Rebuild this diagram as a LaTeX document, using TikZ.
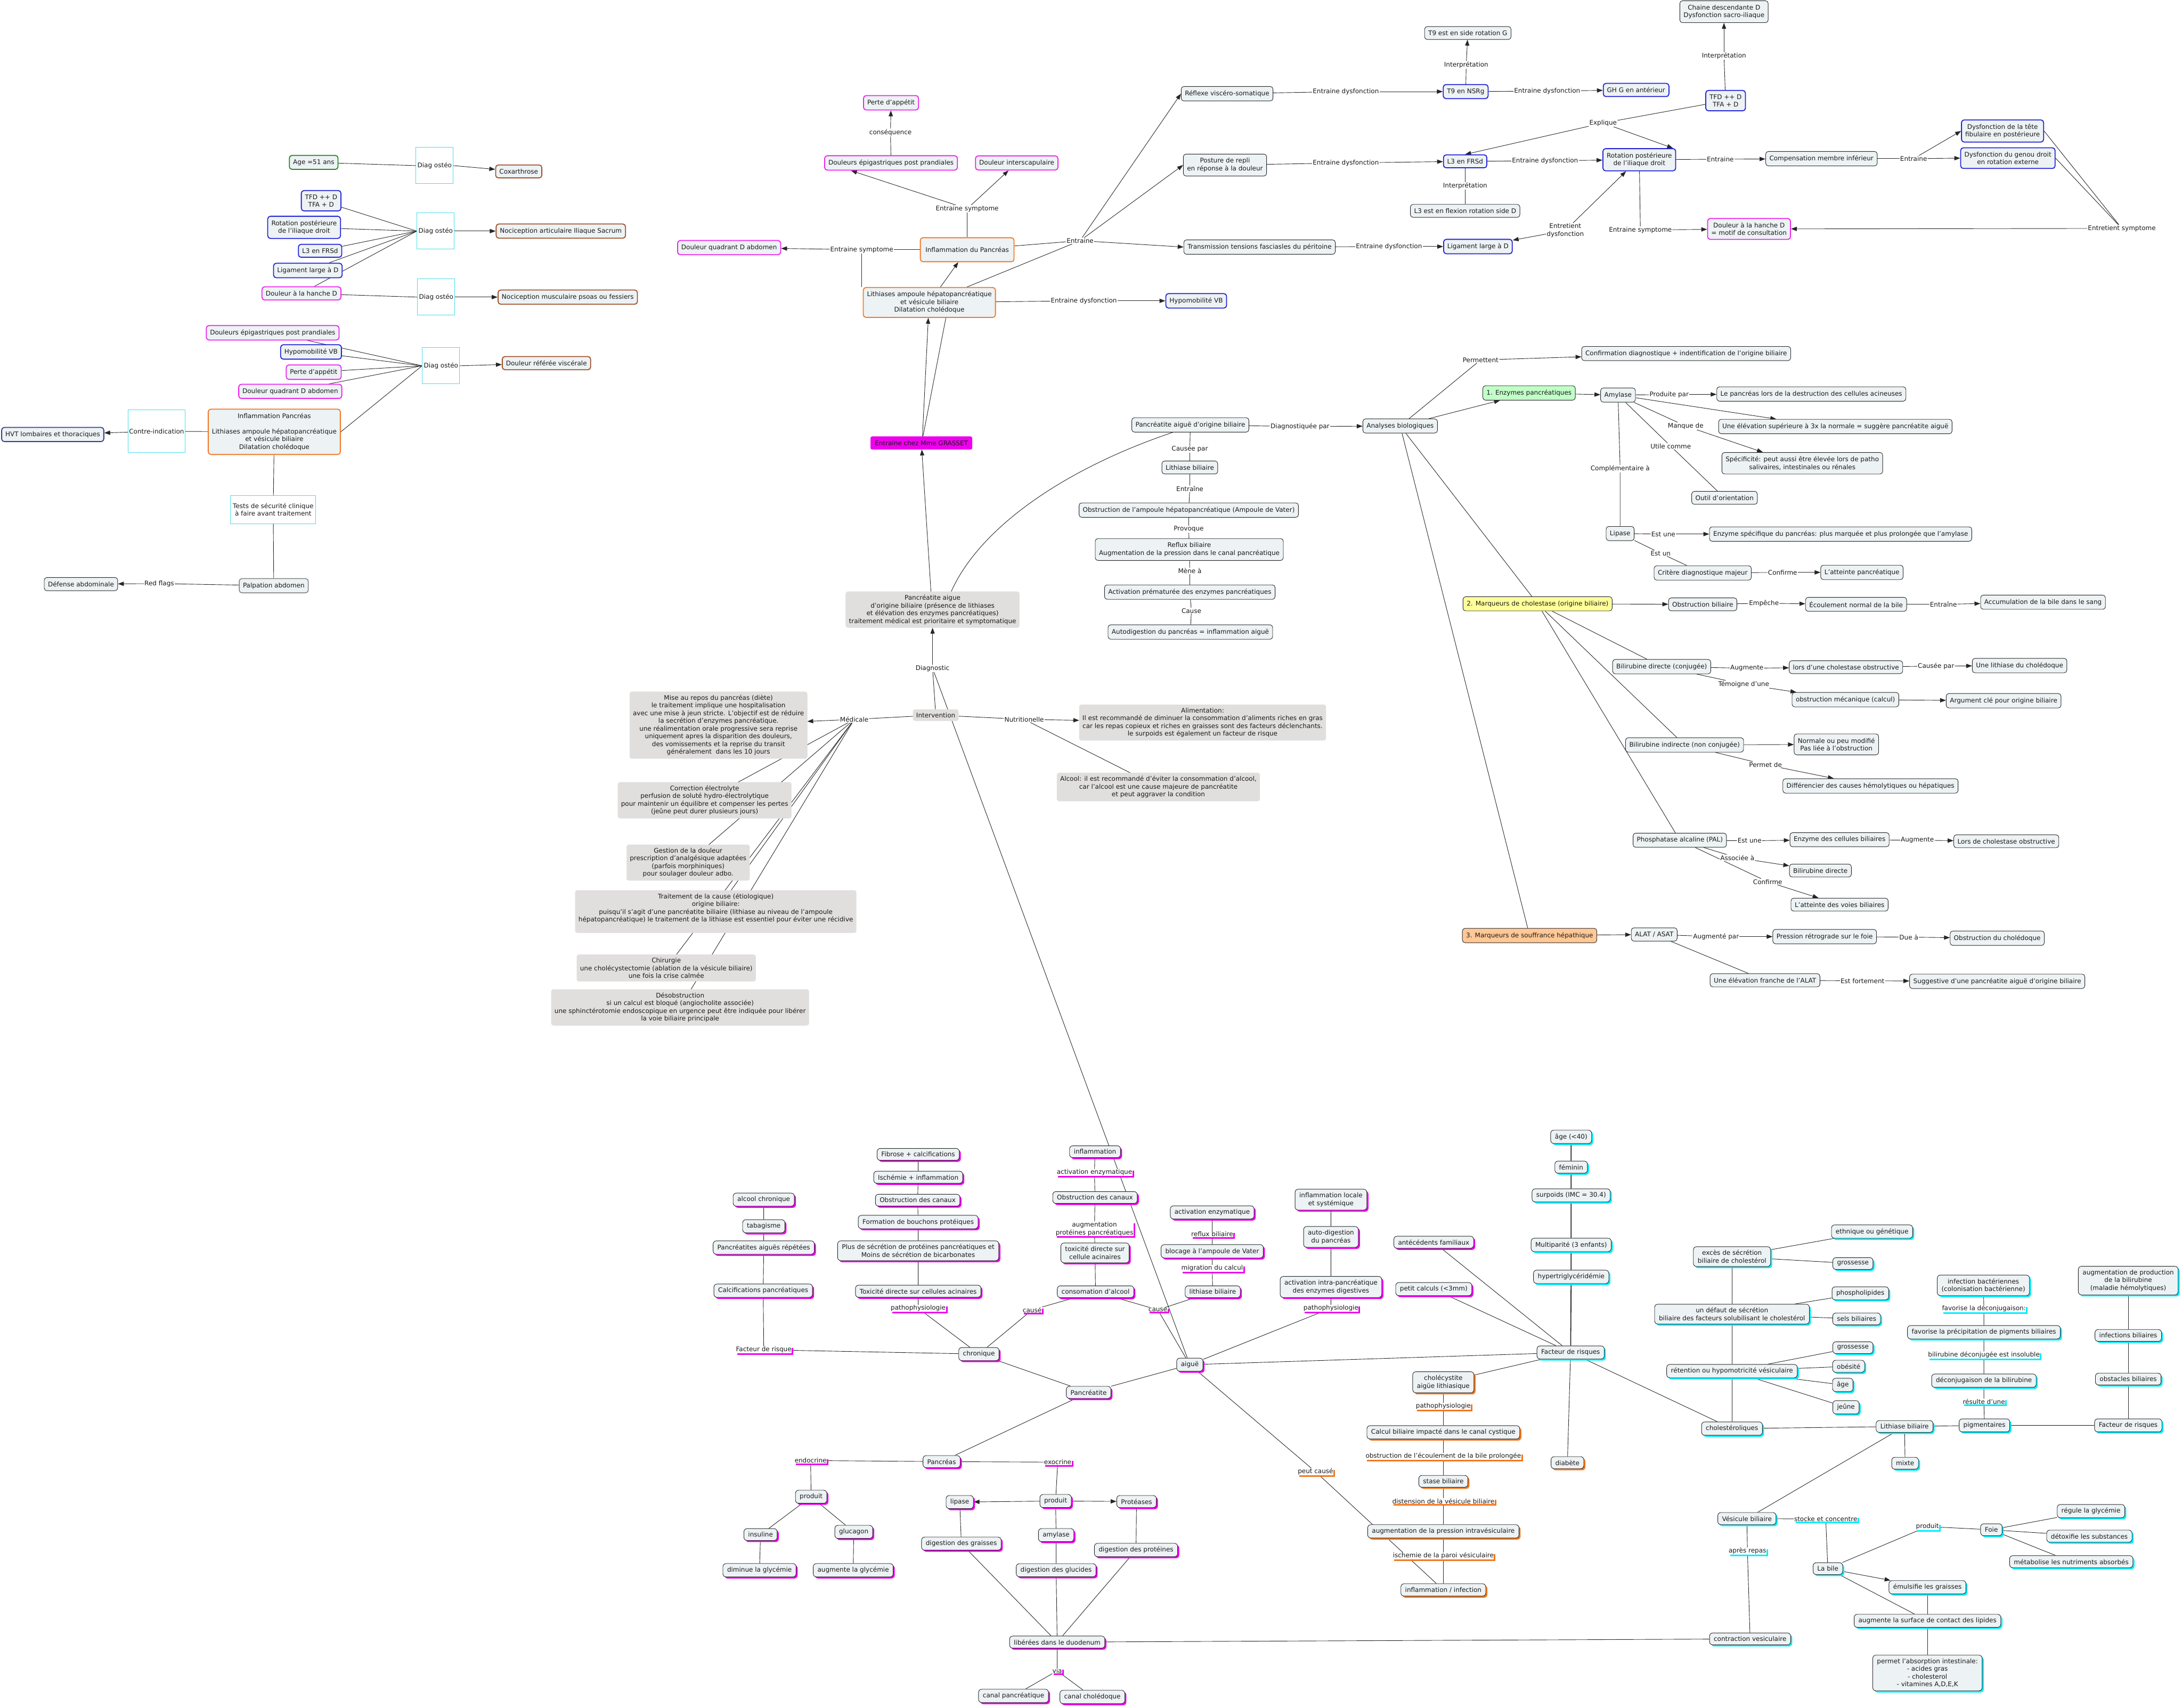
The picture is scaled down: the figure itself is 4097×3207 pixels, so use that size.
\documentclass[tikz,border=0pt]{standalone}
\usepackage{fontspec}
\setmainfont{DejaVu Sans}
\usetikzlibrary{arrows.meta,shadows}

\definecolor{fond}{HTML}{EDF2F4}
\definecolor{bleu}{HTML}{2424D8}
\definecolor{rose}{HTML}{EC24EC}
\definecolor{corange}{HTML}{F07A28}
\definecolor{brun}{HTML}{A0522D}
\definecolor{vert}{HTML}{1E8C1E}
\definecolor{marine}{HTML}{3C3C96}
\definecolor{cyanbord}{HTML}{48DCE6}
\definecolor{gris}{HTML}{E1DEDE}
\definecolor{vertclair}{HTML}{C2FFC8}
\definecolor{jaune}{HTML}{FFFF99}
\definecolor{peche}{HTML}{FFC896}
\definecolor{ombrecyan}{HTML}{00EEFF}
\definecolor{ombrerose}{HTML}{EE00EE}
\definecolor{ombreorange}{HTML}{F07820}

\pgfdeclarelayer{background}
\pgfsetlayers{background,main}

\tikzset{
  texte/.style={font=\fontsize{12}{14.5}\selectfont, text=black!90},
  concept/.style={texte, draw=black!85, fill=fond, rounded corners=5pt, line width=0.9pt, align=center, inner xsep=7pt, inner ysep=7.5pt},
  bleubox/.style={concept, draw=bleu, line width=1.8pt},
  rosebox/.style={concept, draw=rose, line width=1.8pt},
  orbox/.style={concept, draw=corange, line width=1.8pt},
  brunbox/.style={concept, draw=brun, line width=1.8pt},
  vertbox/.style={concept, draw=vert, line width=1.8pt},
  marinebox/.style={concept, draw=marine, line width=1.8pt},
  diag/.style={texte, draw=cyanbord, fill=white, line width=0.9pt, minimum width=70pt, minimum height=68pt, inner sep=1pt},
  cyanbox/.style={texte, draw=cyanbord, fill=white, line width=0.9pt, align=center, inner xsep=2pt},
  grisbox/.style={texte, fill=gris, draw=gris, rounded corners=4pt, align=center, inner xsep=6pt, inner ysep=6pt},
  grasset/.style={texte, fill=ombrerose, draw=rose, rounded corners=3pt, inner xsep=8pt, inner ysep=7.5pt},
  lien/.style={texte, fill=white, inner sep=1pt, align=center},
  cnode/.style={concept, rounded corners=6pt, inner xsep=8pt, inner ysep=6.5pt, drop shadow={shadow xshift=3pt, shadow yshift=-3pt, fill=#1, fill opacity=1}},
  clien/.style={lien, inner sep=0.5pt, drop shadow={shadow xshift=3pt, shadow yshift=-3pt, fill=#1, fill opacity=1}},
  fleche/.style={-{Triangle[length=11pt,width=8pt]}}
}

\begin{document}
\begin{tikzpicture}[x=1pt,y=-1pt]
\useasboundingbox (0,0) rectangle (4097,3207);

\node[vertbox] (age) at (589,305) {Age =51 ans};
\node[diag] (diagA) at (816,311) {Diag ostéo};
\node[brunbox] (coxa) at (974,322) {Coxarthrose};
\node[bleubox] (tfdL) at (603,377) {TFD ++ D\\TFA + D};
\node[bleubox] (rotL) at (571,427) {Rotation postérieure\\de l'iliaque droit};
\node[bleubox] (l3L) at (601,471) {L3 en FRSd};
\node[bleubox] (ligL) at (578,508) {Ligament large à D};
\node[rosebox] (hancheL) at (566,551) {Douleur à la hanche D};
\node[diag] (diagB) at (818,434) {Diag ostéo};
\node[brunbox] (nocArt) at (1053,434) {Nociception articulaire Iliaque Sacrum};
\node[diag] (diagC) at (819,558) {Diag ostéo};
\node[brunbox] (nocMus) at (1066,558) {Nociception musculaire psoas ou fessiers};
\node[rosebox] (epigL) at (512,625) {Douleurs épigastriques post prandiales};
\node[bleubox] (hypoL) at (584,661) {Hypomobilité VB};
\node[rosebox] (perteL) at (589,699) {Perte d'appétit};
\node[rosebox] (quadL) at (545,735) {Douleur quadrant D abdomen};
\node[diag] (diagD) at (828,687) {Diag ostéo};
\node[brunbox] (refer) at (1026,682) {Douleur référée viscérale};
\node[orbox] (inflamL) at (515,811) {Inflammation Pancréas\\[14.5pt]Lithiases ampoule hépatopancréatique\\et vésicule biliaire\\Dilatation cholédoque};
\node[cyanbox, minimum width=106pt, minimum height=80pt] (contre) at (294,810) {Contre-indication};
\node[marinebox] (hvt) at (99,816) {HVT lombaires et thoraciques};
\node[cyanbox, minimum width=160pt, minimum height=53pt] (tests) at (513,957) {Tests de sécurité clinique\\à faire avant traitement};
\node[concept, draw=black!50, line width=1.5pt] (palp) at (514,1100) {Palpation abdomen};
\node[concept] (defense) at (152,1097) {Défense abdominale};
\node[lien] (redflags) at (299,1096) {Red flags};

\node[rosebox] (perteC) at (1673,193) {Perte d'appétit};
\node[lien] (consq) at (1672,249) {conséquence};
\node[rosebox] (epigC) at (1673,306) {Douleurs épigastriques post prandiales};
\node[rosebox] (intersc) at (1909,306) {Douleur interscapulaire};
\node[lien] (symA) at (1816,392) {Entraine symptome};
\node[orbox, minimum width=176pt, minimum height=45pt] (inflamC) at (1816,469) {Inflammation du Pancréas};
\node[rosebox] (quadC) at (1369,465) {Douleur quadrant D abdomen};
\node[lien] (symB) at (1618,469) {Entraine symptome};
\node[orbox] (lithC) at (1745,568) {Lithiases ampoule hépatopancréatique\\et vésicule biliaire\\Dilatation cholédoque};
\node[lien] (entrA) at (2028,452) {Entraine};
\node[concept] (reflexe) at (2304,176) {Réflexe viscéro-somatique};
\node[concept] (posture) at (2300,310) {Posture de repli\\en réponse à la douleur};
\node[concept] (transm) at (2365,464) {Transmission tensions fasciasles du péritoine};
\node[lien] (dysfA) at (2035,565) {Entraine dysfonction};
\node[bleubox] (hypoC) at (2246,565) {Hypomobilité VB};
\node[grasset] (grasset) at (1730,832) {Entraine chez Mme GRASSET};
\node[concept] (paob) at (2235,798) {Pancréatite aiguë d'origine biliaire};
\node[lien] (diagpar) at (2441,801) {Diagnostiquée par};

\node[lien] (dysfB) at (2527,172) {Entraine dysfonction};
\node[lien] (dysfC) at (2527,306) {Entraine dysfonction};
\node[concept] (t9side) at (2756,62) {T9 est en side rotation G};
\node[lien] (interA) at (2753,122) {Interprétation};
\node[bleubox] (t9) at (2752,172) {T9 en NSRg};
\node[lien] (dysfD) at (2905,171) {Entraine dysfonction};
\node[bleubox] (ghg) at (3072,169) {GH G en antérieur};
\node[concept] (chaine) at (3237,22) {Chaine descendante D\\Dysfonction sacro-iliaque};
\node[lien] (interB) at (3237,105) {Interprétation};
\node[bleubox] (tfdR) at (3240,189) {TFD ++ D\\TFA + D};
\node[lien] (explique) at (3010,231) {Explique};
\node[bleubox] (l3R) at (2751,303) {L3 en FRSd};
\node[lien] (dysfE) at (2901,302) {Entraine dysfonction};
\node[bleubox] (rotR) at (3078,300) {Rotation postérieure\\de l'iliaque droit};
\node[lien] (entrB) at (3230,299) {Entraine};
\node[concept] (compens) at (3420,298) {Compensation membre inférieur};
\node[lien] (entrC) at (3593,298) {Entraine};
\node[bleubox] (fibul) at (3760,246) {Dysfonction de la tête\\fibulaire en postérieure};
\node[bleubox] (genou) at (3770,297) {Dysfonction du genou droit\\en rotation externe};
\node[lien] (interC) at (2751,349) {Interprétation};
\node[concept] (l3flex) at (2751,396) {L3 est en flexion rotation side D};
\node[lien] (entret) at (2939,433) {Entretient\\dysfonction};
\node[bleubox] (ligR) at (2775,463) {Ligament large à D};
\node[lien] (dysfF) at (2608,463) {Entraine dysfonction};
\node[lien] (symC) at (3080,432) {Entraine symptome};
\node[rosebox] (motif) at (3284,430) {Douleur à la hanche D\\= motif de consultation};
\node[lien] (entretS) at (3984,429) {Entretient symptome};

\node[concept] (confirm) at (3166,664) {Confirmation diagnostique + indentification de l'origine biliaire};
\node[lien] (permet) at (2780,676) {Permettent};
\node[concept, fill=vertclair] (enzymes) at (2871,738) {1. Enzymes pancréatiques};
\node[concept] (amylaseT) at (3038,742) {Amylase};
\node[lien] (produite) at (3134,741) {Produite par};
\node[concept] (acineuses) at (3401,740) {Le pancréas lors de la destruction des cellules acineuses};
\node[concept] (elev3x) at (3446,801) {Une élévation supérieure à 3x la normale = suggère pancréatite aiguë};
\node[lien] (manque) at (3165,800) {Manque de};
\node[concept] (specif) at (3384,870) {Spécificité: peut aussi être élevée lors de patho\\salivaires, intestinales ou rénales};
\node[lien] (utile) at (3137,838) {Utile comme};
\node[concept] (outil) at (3238,935) {Outil d'orientation};
\node[lien] (complem) at (3042,880) {Complémentaire à};
\node[concept] (analyses) at (2629,800) {Analyses biologiques};
\node[concept] (lipaseT) at (3042,1002) {Lipase};
\node[lien] (estuneA) at (3123,1003) {Est une};
\node[concept] (enzspec) at (3456,1003) {Enzyme spécifique du pancréas: plus marquée et plus prolongée que l'amylase};
\node[lien] (estun) at (3118,1039) {Est un};
\node[concept] (critere) at (3197,1076) {Critère diagnostique majeur};
\node[lien] (confA) at (3347,1075) {Confirme};
\node[concept] (atteinteP) at (3496,1075) {L'atteinte pancréatique};
\node[concept, fill=jaune] (cholest) at (2887,1134) {2. Marqueurs de cholestase (origine biliaire)};
\node[concept] (obstbil) at (3197,1135) {Obstruction biliaire};
\node[lien] (empeche) at (3312,1133) {Empêche};
\node[concept] (ecoul) at (3485,1135) {Écoulement normal de la bile};
\node[lien] (entrD) at (3649,1135) {Entraîne};
\node[concept] (accum) at (3836,1131) {Accumulation de la bile dans le sang};

\node[concept] (bilidir) at (3120,1252) {Bilirubine directe (conjugée)};
\node[lien] (augmA) at (3280,1255) {Augmente};
\node[concept] (cholobs) at (3466,1253) {lors d'une cholestase obstructive};
\node[lien] (causeepar) at (3635,1251) {Causée par};
\node[concept] (lithchol) at (3792,1250) {Une lithiase du cholédoque};
\node[lien] (temoigne) at (3274,1285) {Témoigne d'une};
\node[concept] (obstmec) at (3465,1314) {obstruction mécanique (calcul)};
\node[concept] (argument) at (3762,1316) {Argument clé pour origine biliaire};
\node[concept] (biliind) at (3163,1399) {Bilirubine indirecte (non conjugée)};
\node[concept] (normale) at (3448,1398) {Normale ou peu modifié\\Pas liée à l'obstruction};
\node[lien] (permetde) at (3315,1436) {Permet de};
\node[concept] (differ) at (3512,1476) {Différencier des causes hémolytiques ou hépatiques};
\node[concept] (pal) at (3154,1578) {Phosphatase alcaline (PAL)};
\node[lien] (estuneB) at (3285,1579) {Est une};
\node[concept] (enzcell) at (3454,1577) {Enzyme des cellules biliaires};
\node[lien] (augmB) at (3600,1578) {Augmente};
\node[concept] (lorschol) at (3767,1580) {Lors de cholestase obstructive};
\node[lien] (associee) at (3262,1611) {Associée à};
\node[concept] (bilidirB) at (3418,1635) {Bilirubine directe};
\node[lien] (confB) at (3319,1656) {Confirme};
\node[concept] (voies) at (3454,1699) {L'atteinte des voies biliaires};
\node[concept, fill=peche] (hepat) at (2872,1757) {3. Marqueurs de souffrance hépathique};
\node[concept] (alat) at (3106,1755) {ALAT / ASAT};
\node[lien] (augmpar) at (3222,1759) {Augmenté par};
\node[concept] (pression) at (3426,1759) {Pression rétrograde sur le foie};
\node[lien] (duea) at (3584,1760) {Due à};
\node[concept] (obstchol) at (3750,1762) {Obstruction du cholédoque};
\node[concept] (elevalat) at (3314,1841) {Une élévation franche de l'ALAT};
\node[lien] (fortement) at (3497,1842) {Est fortement};
\node[concept] (suggest) at (3750,1843) {Suggestive d'une pancréatite aiguë d'origine biliaire};

\node[lien] (causeeB) at (2234,843) {Causée par};
\node[concept] (lithbil) at (2234,878) {Lithiase biliaire};
\node[lien] (entrE) at (2234,918) {Entraîne};
\node[concept] (obstamp) at (2232,958) {Obstruction de l'ampoule hépatopancréatique (Ampoule de Vater)};
\node[lien] (provoque) at (2232,994) {Provoque};
\node[concept] (reflux) at (2233,1032) {Reflux biliaire\\Augmentation de la pression dans le canal pancréatique};
\node[lien] (mene) at (2234,1072) {Mène à};
\node[concept] (activ) at (2234,1112) {Activation prématurée des enzymes pancréatiques};
\node[lien] (causeC) at (2237,1147) {Cause};
\node[concept] (autodig) at (2235,1187) {Autodigestion du pancréas = inflammation aiguë};

\node[grisbox] (grisPA) at (1751,1145) {Pancréatite aigue\\d'origine biliaire (présence de lithiases\\et élévation des enzymes pancréatiques)\\traitement médical est prioritaire et symptomatique};
\node[lien] (diagnostic) at (1751,1255) {Diagnostic};
\node[grisbox] (interv) at (1757,1343) {Intervention};
\node[lien] (medicale) at (1604,1351) {Médicale};
\node[lien] (nutri) at (1923,1351) {Nutritionelle};
\node[grisbox] (repos) at (1349,1362) {Mise au repos du pancréas (diète)\\le traitement implique une hospitalisation\\avec une mise à jeun stricte. L'objectif est de réduire\\la secrétion d'enzymes pancréatique.\\une réalimentation orale progressive sera reprise\\uniquement apres la disparition des douleurs,\\des vomissements et la reprise du transit\\généralement\ \ dans les 10 jours};
\node[grisbox] (aliment) at (2258,1357) {Alimentation:\\Il est recommandé de diminuer la consommation d'aliments riches en gras\\car les repas copieux et riches en graisses sont des facteurs déclenchants.\\le surpoids est également un facteur de risque};
\node[grisbox] (alcool) at (2175,1478) {Alcool: il est recommandé d'éviter la consommation d'alcool,\\car l'alcool est une cause majeure de pancréatite\\et peut aggraver la condition};
\node[grisbox] (correction) at (1323,1503) {Correction électrolyte\\perfusion de soluté hydro-électrolytique\\pour maintenir un équilibre et compenser les pertes\\(jeûne peut durer plusieurs jours)};
\node[grisbox] (gestion) at (1292,1620) {Gestion de la douleur\\prescription d'analgésique adaptées\\(parfois morphiniques)\\pour soulager douleur adbo.};
\node[grisbox] (traitement) at (1344,1712) {Traitement de la cause (étiologique)\\origine biliaire:\\puisqu'il s'agit d'une pancréatite biliaire (lithiase au niveau de l'ampoule\\hépatopancréatique) le traitement de la lithiase est essentiel pour éviter une récidive\\\mbox{}};
\node[grisbox] (chirurgie) at (1251,1818) {Chirurgie\\une cholécystectomie (ablation de la vésicule biliaire)\\une fois la crise calmée};
\node[grisbox] (desobst) at (1277,1892) {Désobstruction\\si un calcul est bloqué (angiocholite associée)\\une sphinctérotomie endoscopique en urgence peut être indiquée pour libérer\\la voie biliaire principale};

\node[cnode=ombrerose] (fibrose) at (1724,2168) {Fibrose + calcifications};
\node[cnode=ombrerose] (ischemie) at (1724,2211) {Ischémie + inflammation};
\node[cnode=ombrerose] (obstcanA) at (1723,2254) {Obstruction des canaux};
\node[cnode=ombrerose] (bouchons) at (1724,2295) {Formation de bouchons protéiques};
\node[cnode=ombrerose] (secretion) at (1724,2349) {Plus de sécrétion de protéines pancréatiques et\\Moins de sécrétion de bicarbonates};
\node[cnode=ombrerose] (toxA) at (1724,2425) {Toxicité directe sur cellules acinaires};
\node[clien=ombrerose] (pathoA) at (1724,2457) {pathophysiologie};
\node[cnode=ombrerose] (alcchron) at (1434,2253) {alcool chronique};
\node[cnode=ombrerose] (tabac) at (1434,2303) {tabagisme};
\node[cnode=ombrerose] (repetees) at (1434,2343) {Pancréatites aiguës répétées};
\node[cnode=ombrerose] (calcif) at (1433,2424) {Calcifications pancréatiques};
\node[clien=ombrerose] (facteurA) at (1434,2535) {Facteur de risque};
\node[cnode=ombrerose] (chronique) at (1838,2543) {chronique};
\node[clien=ombrerose] (causeA) at (1938,2460) {causé};
\node[cnode=ombrerose] (inflamB) at (2056,2163) {inflammation};
\node[clien=ombrerose] (activA) at (2055,2202) {activation enzymatique};
\node[cnode=ombrerose] (obstcanB) at (2056,2249) {Obstruction des canaux};
\node[clien=ombrerose] (augmprot) at (2055,2308) {augmentation\\protéines pancréatiques};
\node[cnode=ombrerose] (toxB) at (2056,2353) {toxicité directe sur\\cellule acinaires};
\node[cnode=ombrerose] (consalc) at (2057,2426) {consomation d'alcool};
\node[clien=ombrerose] (causeB) at (2174,2460) {cause};
\node[cnode=ombrerose] (activN) at (2276,2277) {activation enzymatique};
\node[clien=ombrerose] (refluxL) at (2276,2318) {reflux biliaire};
\node[cnode=ombrerose] (blocage) at (2276,2350) {blocage à l'ampoule de Vater};
\node[clien=ombrerose] (migration) at (2276,2382) {migration du calcul};
\node[cnode=ombrerose] (lithB) at (2277,2426) {lithiase biliaire};
\node[cnode=ombrerose] (inflocale) at (2499,2253) {inflammation locale\\et systémique};
\node[cnode=ombrerose] (autodigB) at (2499,2323) {auto-digestion\\du pancréas};
\node[cnode=ombrerose] (activintra) at (2499,2417) {activation intra-pancréatique\\des enzymes digestives};
\node[clien=ombrerose] (pathoB) at (2499,2457) {pathophysiologie};
\node[cnode=ombrerose] (aigue) at (2234,2563) {aiguë};
\node[cnode=ombrerose] (pancreatite) at (2044,2615) {Pancréatite};
\node[cnode=ombrerose] (pancreas) at (1768,2745) {Pancréas};
\node[clien=ombrerose] (endoc) at (1522,2743) {endocrine};
\node[clien=ombrerose] (exoc) at (1986,2746) {exocrine};
\node[cnode=ombrerose] (produitA) at (1523,2811) {produit};
\node[cnode=ombrerose] (insuline) at (1428,2882) {insuline};
\node[cnode=ombrerose] (glucagon) at (1603,2877) {glucagon};
\node[cnode=ombrerose] (diminue) at (1426,2949) {diminue la glycémie};
\node[cnode=ombrerose] (augmente) at (1602,2949) {augmente la glycémie};
\node[cnode=ombrerose] (lipaseB) at (1802,2821) {lipase};
\node[cnode=ombrerose] (produitB) at (1982,2819) {produit};
\node[cnode=ombrerose] (proteases) at (2134,2820) {Protéases};
\node[cnode=ombrerose] (amylaseB) at (1983,2883) {amylase};
\node[cnode=ombrerose] (diggraisses) at (1805,2899) {digestion des graisses};
\node[cnode=ombrerose] (digglucides) at (1983,2949) {digestion des glucides};
\node[cnode=ombrerose] (digprot) at (2133,2911) {digestion des protéines};
\node[cnode=ombrerose] (liberees) at (1985,3084) {libérées dans le duodenum};
\node[clien=ombrerose] (via) at (1985,3138) {via};
\node[cnode=ombrerose] (canpanc) at (1903,3185) {canal pancréatique};
\node[cnode=ombrerose] (canchol) at (2051,3187) {canal cholédoque};

\node[cnode=ombreorange] (cholecyst) at (2710,2596) {cholécystite\\aigüe lithiasique};
\node[clien=ombreorange] (pathoC) at (2710,2641) {pathophysiologie};
\node[cnode=ombreorange] (calculimp) at (2710,2690) {Calcul biliaire impacté dans le canal cystique};
\node[clien=ombreorange] (obstecoul) at (2710,2735) {obstruction de l'écoulement de la bile prolongée};
\node[cnode=ombreorange] (stase) at (2710,2782) {stase biliaire};
\node[clien=ombreorange] (distension) at (2710,2819) {distension de la vésicule biliaire};
\node[cnode=ombreorange] (pressionV) at (2710,2876) {augmentation de la pression intravésiculaire};
\node[clien=ombreorange] (ischemieP) at (2710,2922) {ischemie de la paroi vésiculaire};
\node[cnode=ombreorange] (infection) at (2710,2986) {inflammation / infection};
\node[clien=ombreorange] (peutcause) at (2470,2764) {peut causé};
\node[cnode=ombreorange] (diabete) at (2943,2747) {diabète};

\node[cnode=ombrecyan] (agecyan) at (2950,2135) {âge (<40)};
\node[cnode=ombrecyan] (feminin) at (2950,2192) {féminin};
\node[cnode=ombrecyan] (surpoids) at (2950,2245) {surpoids (IMC = 30.4)};
\node[cnode=ombrecyan] (multip) at (2950,2338) {Multiparité (3 enfants)};
\node[cnode=ombrecyan] (hypertrig) at (2950,2398) {hypertriglycéridémie};
\node[cnode=ombrerose] (antecedents) at (2692,2333) {antécédents familiaux};
\node[cnode=ombrerose] (petitcalc) at (2692,2421) {petit calculs (<3mm)};
\node[cnode=ombrecyan] (facteurB) at (2949,2540) {Facteur de risques};

\node[cnode=ombrecyan] (ethnique) at (3515,2313) {ethnique ou génétique};
\node[cnode=ombrecyan] (exces) at (3252,2360) {excès de sécrétion\\biliaire de cholestérol};
\node[cnode=ombrecyan] (grossA) at (3479,2373) {grossesse};
\node[cnode=ombrecyan] (phospho) at (3493,2429) {phospholipides};
\node[cnode=ombrecyan] (defaut) at (3252,2468) {un défaut de sécrétion\\biliaire des facteurs solubilisant le cholestérol};
\node[cnode=ombrecyan] (sels) at (3486,2477) {sels biliaires};
\node[cnode=ombrecyan] (grossB) at (3479,2531) {grossesse};
\node[cnode=ombrecyan] (obesite) at (3471,2566) {obésité};
\node[cnode=ombrecyan] (ageB) at (3460,2601) {âge};
\node[cnode=ombrecyan] (jeune) at (3466,2643) {jeûne};
\node[cnode=ombrecyan] (retention) at (3252,2575) {rétention ou hypomotricité vésiculaire};
\node[cnode=ombrecyan] (cholesterol) at (3252,2683) {cholestéroliques};
\node[cnode=ombrecyan] (lithiase) at (3576,2679) {Lithiase biliaire};
\node[cnode=ombrecyan] (mixte) at (3577,2748) {mixte};
\node[cnode=ombrecyan] (pigment) at (3726,2677) {pigmentaires};
\node[cnode=ombrecyan] (infbact) at (3724,2414) {infection bactériennes\\(colonisation bactérienne)};
\node[clien=ombrecyan] (favdecon) at (3725,2458) {favorise la déconjugaison:};
\node[cnode=ombrecyan] (favprec) at (3725,2502) {favorise la précipitation de pigments biliaires};
\node[clien=ombrecyan] (biliinsol) at (3725,2545) {bilirubine déconjugée est insoluble};
\node[cnode=ombrecyan] (deconj) at (3725,2593) {déconjugaison de la bilirubine};
\node[clien=ombrecyan] (resulte) at (3725,2632) {résulte d'une};
\node[cnode=ombrecyan] (prodbili) at (3996,2405) {augmentation de production\\de la bilirubine\\(maladie hémolytiques)};
\node[cnode=ombrecyan] (infbil) at (3996,2508) {infections biliaires};
\node[cnode=ombrecyan] (obstacles) at (3996,2590) {obstacles biliaires};
\node[cnode=ombrecyan] (facteurC) at (3996,2677) {Facteur de risques};
\node[cnode=ombrecyan] (vesicule) at (3280,2852) {Vésicule biliaire};
\node[clien=ombrecyan] (stocke) at (3428,2853) {stocke et concentre};
\node[clien=ombrecyan] (apres) at (3281,2913) {après repas};
\node[cnode=ombrecyan] (contraction) at (3286,3078) {contraction vesiculaire};
\node[cnode=ombrecyan] (bile) at (3432,2946) {La bile};
\node[clien=ombrecyan] (produitC) at (3619,2867) {produit};
\node[cnode=ombrecyan] (foie) at (3739,2873) {Foie};
\node[cnode=ombrecyan] (regule) at (3926,2838) {régule la glycémie};
\node[cnode=ombrecyan] (detox) at (3923,2885) {détoxifie les substances};
\node[cnode=ombrecyan] (metab) at (3889,2933) {métabolise les nutriments absorbés};
\node[cnode=ombrecyan] (emuls) at (3619,2981) {émulsifie les graisses};
\node[cnode=ombrecyan] (surface) at (3619,3044) {augmente la surface de contact des lipides};
\node[cnode=ombrecyan] (absorption) at (3619,3142) {permet l'absorption intestinale:\\- acides gras\\- cholesterol\\- vitamines A,D,E,K};

\begin{pgfonlayer}{background}
\fill[white] (0,0) rectangle (4097,3207);
\begin{scope}[line width=0.9pt, color=black!85]
\draw (age)--(diagA.west);
\draw[fleche] (diagA.east)--(coxa);
\draw (tfdL)--(diagB.west);
\draw (rotL)--(diagB.west);
\draw (l3L)--(diagB.west);
\draw (ligL)--(diagB.west);
\draw (hancheL)--(diagB.west);
\draw[fleche] (diagB.east)--(nocArt);
\draw (hancheL)--(diagC.west);
\draw[fleche] (diagC.east)--(nocMus);
\draw (epigL)--(diagD.west);
\draw (hypoL)--(diagD.west);
\draw (perteL)--(diagD.west);
\draw (quadL)--(diagD.west);
\draw (inflamL.east)--(diagD.west);
\draw[fleche] (diagD.east)--(refer);
\draw (inflamL)--(contre);
\draw[fleche] (contre)--(hvt);
\draw (inflamL)--(tests)--(palp);
\draw (palp)--(redflags);
\draw[fleche] (redflags)--(defense);

\draw (epigC)--(consq);
\draw[fleche] (consq)--(perteC);
\draw (inflamC)--(symA);
\draw[fleche] (symA)--([xshift=-75pt]epigC.south);
\draw[fleche] (symA)--(intersc);
\draw (symB |- lithC.north)--(symB);
\draw (inflamC)--(symB);
\draw[fleche] (symB)--(quadC);
\draw[fleche] (lithC)--(inflamC);
\draw (inflamC)--(entrA);
\draw (lithC)--(entrA);
\draw[fleche] (entrA)--(reflexe.west);
\draw[fleche] (entrA)--(posture.west);
\draw[fleche] (entrA)--(transm.west);
\draw (lithC)--(dysfA);
\draw[fleche] (dysfA)--(hypoC);
\draw[fleche] ([xshift=2pt]grasset.north)--([xshift=-2pt]lithC.south);
\draw ([xshift=3pt]grasset.north)--([xshift=31pt]lithC.south);
\draw[fleche] ([xshift=-3pt]grisPA.north)--(grasset);
\draw ([xshift=35pt]grisPA.north) .. controls (1840,990) and (2000,880) .. ([xshift=-33pt]paob.south);

\draw (reflexe)--(dysfB);
\draw[fleche] (dysfB)--(t9);
\draw (posture)--(dysfC);
\draw[fleche] (dysfC)--(l3R);
\draw (t9)--(interA);
\draw[fleche] (interA)--(t9side);
\draw (t9)--(dysfD);
\draw[fleche] (dysfD)--(ghg);
\draw (tfdR)--(interB);
\draw[fleche] (interB)--(chaine);
\draw (tfdR)--(explique);
\draw[fleche] (explique)--(l3R.north);
\draw[fleche] (explique)--([xshift=-6pt]rotR.north east);
\draw (l3R)--(dysfE);
\draw[fleche] (dysfE)--(rotR);
\draw (l3R)--(interC)--(l3flex);
\draw (rotR)--(entrB);
\draw[fleche] (entrB)--(compens);
\draw (compens)--(entrC);
\draw[fleche] (entrC)--(fibul.west);
\draw[fleche] (entrC)--(genou.west);
\draw (rotR)--(symC);
\draw[fleche] (symC)--(motif);
\draw (fibul.east)--(entretS);
\draw (genou.east)--(entretS);
\draw[fleche] (entretS)--(motif);
\draw[fleche] (entret)--(ligR);
\draw[fleche] (entret)--([xshift=-25pt]rotR.south);
\draw (transm)--(dysfF);
\draw[fleche] (dysfF)--(ligR);

\draw (paob)--(diagpar);
\draw[fleche] (diagpar)--(analyses);
\draw (analyses)--(permet);
\draw[fleche] (permet)--(confirm);
\draw[fleche] (analyses)--(enzymes);
\draw[fleche] (enzymes)--(amylaseT);
\draw (amylaseT)--(produite);
\draw[fleche] (produite)--(acineuses);
\draw[fleche] (amylaseT)--([xshift=-111pt]elev3x.north);
\draw (amylaseT)--(manque);
\draw[fleche] (manque)--([xshift=-74pt]specif.north);
\draw (amylaseT)--(utile)--(outil);
\draw (amylaseT)--(complem)--(lipaseT);
\draw (lipaseT)--(estuneA);
\draw[fleche] (estuneA)--(enzspec);
\draw (lipaseT)--(estun)--(critere);
\draw (critere)--(confA);
\draw[fleche] (confA)--(atteinteP);
\draw (analyses)--(cholest);
\draw (analyses)--(hepat);
\draw[fleche] (cholest)--(obstbil);
\draw (obstbil)--(empeche);
\draw[fleche] (empeche)--(ecoul);
\draw (ecoul)--(entrD);
\draw[fleche] (entrD)--(accum);
\draw (cholest)--(bilidir);
\draw (cholest)--(biliind);
\draw (cholest)--(pal);
\draw (bilidir)--(augmA);
\draw[fleche] (augmA)--(cholobs);
\draw (cholobs)--(causeepar);
\draw[fleche] (causeepar)--(lithchol);
\draw (bilidir)--(temoigne);
\draw[fleche] (temoigne)--(obstmec);
\draw[fleche] (obstmec)--(argument);
\draw[fleche] (biliind)--(normale);
\draw (biliind)--(permetde);
\draw[fleche] (permetde)--(differ);
\draw (pal)--(estuneB);
\draw[fleche] (estuneB)--(enzcell);
\draw (enzcell)--(augmB);
\draw[fleche] (augmB)--(lorschol);
\draw (pal)--(associee);
\draw[fleche] (associee)--(bilidirB);
\draw (pal)--(confB);
\draw[fleche] (confB)--(voies);
\draw[fleche] (hepat)--(alat);
\draw (alat)--(augmpar);
\draw[fleche] (augmpar)--(pression);
\draw (pression)--(duea);
\draw[fleche] (duea)--(obstchol);
\draw (alat)--(elevalat);
\draw (elevalat)--(fortement);
\draw[fleche] (fortement)--(suggest);

\draw (paob)--(causeeB)--(lithbil)--(entrE)--(obstamp)--(provoque)--(reflux)--(mene)--(activ)--(causeC)--(autodig);
\draw[fleche] (diagnostic)--(grisPA);
\draw (interv)--(diagnostic);
\draw (aigue)--(diagnostic);
\draw (interv)--(medicale);
\draw[fleche] (medicale)--(repos);
\draw (medicale)--(correction);
\draw (medicale)--(gestion);
\draw (medicale)--(traitement);
\draw (medicale)--(chirurgie);
\draw (medicale)--(desobst);
\draw (interv)--(nutri);
\draw[fleche] (nutri)--(aliment);
\draw (nutri)--(alcool);

\draw (fibrose)--(ischemie)--(obstcanA)--(bouchons)--(secretion)--(toxA)--(pathoA)--(chronique);
\draw (alcchron)--(tabac)--(repetees)--(calcif)--(facteurA)--(chronique);
\draw (chronique)--(causeA)--(consalc);
\draw (inflamB)--(activA)--(obstcanB)--(augmprot)--(toxB)--(consalc);
\draw (consalc)--(causeB)--(aigue);
\draw (lithB)--(causeB);
\draw (activN)--(refluxL)--(blocage)--(migration)--(lithB);
\draw (inflocale)--(autodigB)--(activintra)--(pathoB)--(aigue);
\draw (chronique)--(pancreatite)--(aigue);
\draw (aigue)--(facteurB);
\draw (aigue)--(peutcause)--(infection);
\draw (pancreas)--(pancreatite);
\draw (pancreas)--(endoc)--(produitA);
\draw (produitA)--(insuline)--(diminue);
\draw (produitA)--(glucagon)--(augmente);
\draw (pancreas)--(exoc)--(produitB);
\draw[fleche] (produitB)--(lipaseB);
\draw[fleche] (produitB)--(proteases);
\draw (produitB)--(amylaseB)--(digglucides)--(liberees);
\draw (lipaseB)--(diggraisses)--(liberees);
\draw (proteases)--(digprot)--(liberees);
\draw (liberees)--(via);
\draw (via)--(canpanc);
\draw (via)--(canchol);
\draw (liberees)--(contraction);

\draw (cholecyst)--(pathoC)--(calculimp)--(obstecoul)--(stase)--(distension)--(pressionV)--(ischemieP)--(infection);
\draw[line width=1.8pt] (agecyan)--(feminin)--(surpoids)--(multip)--(hypertrig)--(facteurB);
\draw (antecedents)--(facteurB);
\draw (petitcalc)--(facteurB);
\draw (facteurB)--(cholecyst);
\draw (facteurB)--(diabete);
\draw (facteurB)--(cholesterol);

\draw (exces)--(ethnique);
\draw (exces)--(grossA);
\draw (exces)--(defaut);
\draw (defaut)--(phospho);
\draw (defaut)--(sels);
\draw (defaut)--(retention);
\draw (retention)--(grossB);
\draw (retention)--(obesite);
\draw (retention)--(ageB);
\draw (retention)--(jeune);
\draw (retention)--(cholesterol);
\draw (cholesterol)--(lithiase)--(pigment)--(facteurC);
\draw (lithiase)--(mixte);
\draw (lithiase)--(vesicule);
\draw (pigment)--(resulte)--(deconj)--(biliinsol)--(favprec)--(favdecon)--(infbact);
\draw (facteurC)--(obstacles)--(infbil)--(prodbili);
\draw (vesicule)--(stocke)--(bile);
\draw (vesicule)--(apres)--(contraction);
\draw (bile)--(produitC)--(foie);
\draw (foie)--(regule);
\draw (foie)--(detox);
\draw (foie)--(metab);
\draw[fleche] (bile)--(emuls);
\draw (emuls)--(surface);
\draw (bile)--(surface);
\draw (surface)--(absorption);
\end{scope}
\end{pgfonlayer}

\end{tikzpicture}
\end{document}
